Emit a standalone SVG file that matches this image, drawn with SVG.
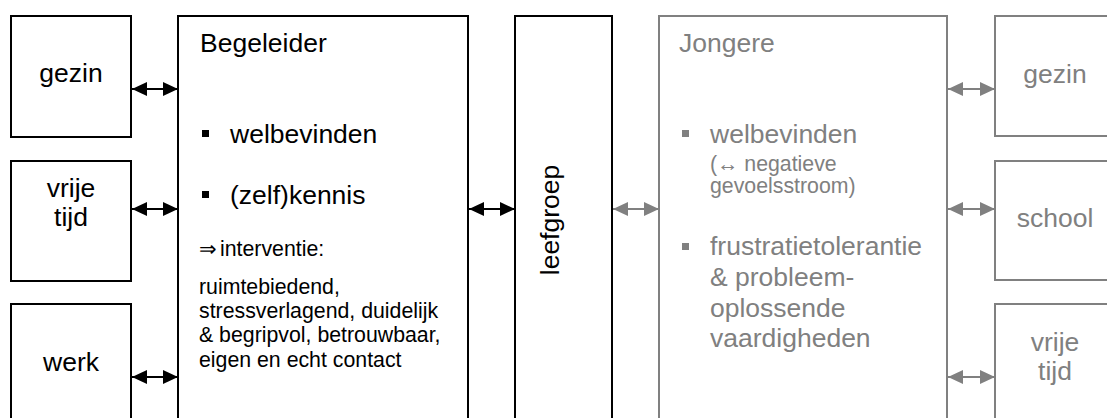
<svg xmlns="http://www.w3.org/2000/svg" width="1107" height="418" viewBox="0 0 1107 418">
<style>
  .bk { fill: #ffffff; stroke: #000000; stroke-width: 2; }
  .gr { fill: #ffffff; stroke: #808080; stroke-width: 2; }
  text { font-family: "Liberation Sans", Arial, sans-serif; }
  .big { font-size: 26.5px; }
  .sm { font-size: 21.3px; }
  .tb { fill: #000000; }
  .tg { fill: #808080; }
  .c { text-anchor: middle; }
  .cb { stroke: #000000; stroke-width: 2; fill: none; marker-start: url(#ab); marker-end: url(#ab); }
  .cg { stroke: #808080; stroke-width: 2; fill: none; marker-start: url(#ag); marker-end: url(#ag); }
</style>
<defs>
  <marker id="ab" markerUnits="userSpaceOnUse" markerWidth="15" markerHeight="14" refX="15" refY="7" orient="auto-start-reverse">
    <path d="M0,0 L15,7 L0,14 z" fill="#000000"/>
  </marker>
  <marker id="ag" markerUnits="userSpaceOnUse" markerWidth="15" markerHeight="14" refX="15" refY="7" orient="auto-start-reverse">
    <path d="M0,0 L15,7 L0,14 z" fill="#808080"/>
  </marker>
</defs>
<rect width="1107" height="418" fill="#ffffff"/>

<g id="connectors">
  <line class="cb" x1="132" y1="89" x2="178" y2="89"/>
  <line class="cb" x1="132" y1="209" x2="178" y2="209"/>
  <line class="cb" x1="132" y1="377" x2="178" y2="377"/>
  <line class="cb" x1="469" y1="209" x2="515" y2="209"/>
  <line class="cg" x1="613" y1="209" x2="659" y2="209"/>
  <line class="cg" x1="948" y1="89" x2="995" y2="89"/>
  <line class="cg" x1="948" y1="209" x2="995" y2="209"/>
  <line class="cg" x1="948" y1="377" x2="995" y2="377"/>
</g>

<g id="gezin-left">
  <rect class="bk" x="11" y="16" width="120" height="121"/>
  <text class="big tb c" x="71" y="82">gezin</text>
</g>
<g id="vrijetijd-left">
  <rect class="bk" x="11" y="161" width="120" height="120"/>
  <text class="big tb c" x="71" y="197">vrije</text>
  <text class="big tb c" x="71" y="226">tijd</text>
</g>
<g id="werk-left">
  <rect class="bk" x="11" y="304" width="120" height="130"/>
  <text class="big tb c" x="71" y="371">werk</text>
</g>

<g id="begeleider">
  <rect class="bk" x="178" y="16" width="290" height="420"/>
  <text class="big tb" x="200" y="52">Begeleider</text>
  <rect x="202" y="130" width="7" height="7" fill="#000000"/>
  <text class="big tb" x="230" y="143">welbevinden</text>
  <rect x="202" y="191" width="7" height="7" fill="#000000"/>
  <text class="big tb" x="230" y="204">(zelf)kennis</text>
  <text class="sm tb" x="199" y="256">⇒</text>
  <text class="sm tb" x="220" y="256">interventie:</text>
  <text class="sm tb" x="199" y="294">ruimtebiedend,</text>
  <text class="sm tb" x="199" y="318">stressverlagend, duidelijk</text>
  <text class="sm tb" x="199" y="342">&amp; begripvol, betrouwbaar,</text>
  <text class="sm tb" x="199" y="367">eigen en echt contact</text>
</g>

<g id="leefgroep">
  <rect class="bk" x="515" y="16" width="97" height="420"/>
  <text class="big tb c" transform="translate(559,220) rotate(-90)" x="0" y="0">leefgroep</text>
</g>

<g id="jongere">
  <rect class="gr" x="659" y="16" width="288" height="420"/>
  <text class="big tg" x="679" y="52">Jongere</text>
  <rect x="682" y="130" width="7" height="7" fill="#808080"/>
  <text class="big tg" x="710" y="143">welbevinden</text>
  <text class="sm tg" x="710" y="171">(↔ negatieve</text>
  <text class="sm tg" x="710" y="193">gevoelsstroom)</text>
  <rect x="682" y="243" width="7" height="7" fill="#808080"/>
  <text class="big tg" x="710" y="255">frustratietolerantie</text>
  <text class="big tg" x="710" y="286">&amp; probleem-</text>
  <text class="big tg" x="710" y="317">oplossende</text>
  <text class="big tg" x="710" y="347">vaardigheden</text>
</g>

<g id="gezin-right">
  <rect class="gr" x="995" y="16" width="120" height="120"/>
  <text class="big tg c" x="1055" y="83">gezin</text>
</g>
<g id="school-right">
  <rect class="gr" x="995" y="161" width="120" height="119"/>
  <text class="big tg c" x="1055" y="227">school</text>
</g>
<g id="vrijetijd-right">
  <rect class="gr" x="995" y="304" width="120" height="130"/>
  <text class="big tg c" x="1055" y="351">vrije</text>
  <text class="big tg c" x="1055" y="380">tijd</text>
</g>
</svg>
